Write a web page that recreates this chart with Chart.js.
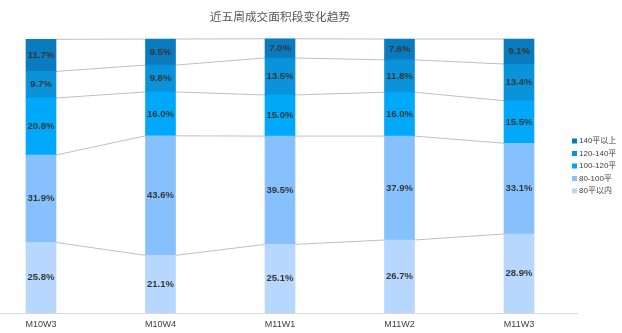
<!DOCTYPE html>
<html><head><meta charset="utf-8">
<script src="https://cdn.jsdelivr.net/npm/chart.js@4/dist/chart.umd.min.js"></script>
<style>html,body{margin:0;padding:0;background:#fff;overflow:hidden}#wrap{width:622px;height:333px;position:relative}</style>
</head><body><div id="wrap"><canvas id="c" width="622" height="333"></canvas></div>
<script>
// ---- data ----
const categories = ['M10W3', 'M10W4', 'M11W1', 'M11W2', 'M11W3'];
const seriesNames = ['80平以内', '80-100平', '100-120平', '120-140平', '140平以上'];
const under80 = [25.8, 21.1, 25.1, 26.7, 28.9];
const from80to100 = [31.9, 43.6, 39.5, 37.9, 33.1];
const from100to120 = [20.8, 16.0, 15.0, 16.0, 15.5];
const from120to140 = [9.7, 9.8, 13.5, 11.8, 13.4];
const over140 = [11.7, 9.5, 7.0, 7.6, 9.1];
const seriesValues = [under80, from80to100, from100to120, from120to140, over140];
const seriesColors = ['#B7D7FE', '#86C1FE', '#00A8FA', '#0A93DA', '#0B7BBF'];
const titleText = '近五周成交面积段变化趋势';

Chart.defaults.font.family = '"Liberation Sans", Arial, "Noto Sans CJK SC", sans-serif';

const seriesLines = {
  id: 'seriesLines',
  beforeDatasetsDraw(chart) {
    const ctx = chart.ctx;
    ctx.save();
    ctx.strokeStyle = '#BFBFBF';
    ctx.lineWidth = 1;
    chart.data.datasets.forEach((ds, d) => {
      const meta = chart.getDatasetMeta(d);
      for (let i = 0; i < meta.data.length - 1; i++) {
        const a = meta.data[i], b = meta.data[i + 1];
        ctx.beginPath();
        ctx.moveTo(a.x + a.width / 2, a.y);
        ctx.lineTo(b.x - b.width / 2, b.y);
        ctx.stroke();
      }
    });
    ctx.restore();
  }
};

const valueLabels = {
  id: 'valueLabels',
  afterDatasetsDraw(chart) {
    const ctx = chart.ctx;
    ctx.save();
    ctx.font = 'bold 9.5px "Liberation Sans", Arial, sans-serif';
    ctx.fillStyle = '#363636';
    ctx.textAlign = 'center';
    ctx.textBaseline = 'middle';
    chart.data.datasets.forEach((ds, d) => {
      const meta = chart.getDatasetMeta(d);
      meta.data.forEach((el, i) => {
        ctx.fillText(ds.data[i].toFixed(1) + '%', el.x, (el.y + el.base) / 2);
      });
    });
    ctx.restore();
  }
};

const axisLine = {
  id: 'axisLine',
  afterDraw(chart) {
    const ctx = chart.ctx;
    const y = Math.round(chart.chartArea.bottom) + 0.5;
    ctx.save();
    ctx.strokeStyle = '#D9D9D9';
    ctx.lineWidth = 1;
    ctx.beginPath();
    ctx.moveTo(0, y);
    ctx.lineTo(578, y);
    ctx.stroke();
    ctx.restore();
  }
};

const sideLegend = {
  id: 'sideLegend',
  afterDraw(chart) {
    const ctx = chart.ctx;
    ctx.save();
    ctx.font = '8px "Liberation Sans", Arial, "Noto Sans CJK SC", sans-serif';
    ctx.textBaseline = 'middle';
    ctx.textAlign = 'left';
    const items = chart.data.datasets.map((ds) => ({ label: ds.label, color: ds.backgroundColor })).reverse();
    items.forEach((it, i) => {
      const y = 141 + i * 12.5;
      ctx.fillStyle = it.color;
      ctx.fillRect(572, y - 2.5, 5, 5);
      ctx.fillStyle = '#404040';
      ctx.fillText(it.label, 579, y);
    });
    ctx.restore();
  }
};

new Chart(document.getElementById('c'), {
  type: 'bar',
  data: {
    labels: categories,
    datasets: seriesNames.map((name, k) => ({
      label: name,
      data: seriesValues[k],
      backgroundColor: seriesColors[k],
      borderWidth: 0,
      barThickness: 30,
      clip: false
    }))
  },
  options: {
    responsive: false,
    animation: false,
    devicePixelRatio: 1,
    layout: { padding: { left: 41, right: 103, top: 0, bottom: -3 } },
    plugins: {
      legend: { display: false },
      tooltip: { enabled: false },
      title: {
        display: true,
        text: titleText,
        fullSize: false,
        color: '#555555',
        font: { family: '"Noto Sans CJK SC", sans-serif', size: 11.7, weight: 'normal' },
        padding: { top: 10, bottom: 15 }
      }
    },
    scales: {
      x: {
        stacked: true,
        offset: false,
        grid: { display: false, drawTicks: false },
        border: { display: false },
        ticks: { color: '#404040', font: { size: 9 }, padding: 6, maxRotation: 0, autoSkip: false }
      },
      y: {
        stacked: true,
        display: false,
        min: 0,
        max: 100
      }
    }
  },
  plugins: [seriesLines, valueLabels, axisLine, sideLegend]
});
</script></body></html>
